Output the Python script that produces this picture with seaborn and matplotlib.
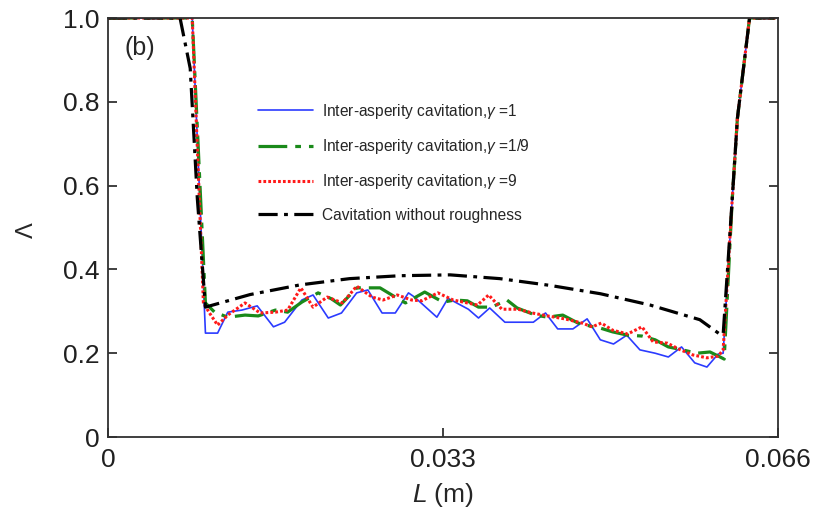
import pandas as pd
import seaborn as sns
import matplotlib.pyplot as plt

# valeurs (L en m, Lambda sans dimension)
L_g1 = [0, 0.0083, 0.0096, 0.0108, 0.0118, 0.0132, 0.0147, 0.0163, 0.0174, 0.0191,
        0.0202, 0.0217, 0.0230, 0.0245, 0.0256, 0.0270, 0.0283, 0.0296, 0.0302, 0.0324,
        0.0335, 0.0355, 0.0365, 0.0376, 0.0391, 0.0419, 0.0431, 0.0443, 0.0458, 0.0472,
        0.0485, 0.0498, 0.0511, 0.0524, 0.0539, 0.0552, 0.0565, 0.0578, 0.0590, 0.0601,
        0.0606, 0.0615, 0.0620, 0.0632, 0.066]
lam_g1 = [1.0, 1.0, 0.248, 0.248, 0.298, 0.303, 0.313, 0.263, 0.274, 0.327,
          0.339, 0.284, 0.296, 0.344, 0.351, 0.296, 0.296, 0.344, 0.334, 0.286,
          0.331, 0.305, 0.284, 0.308, 0.274, 0.274, 0.296, 0.258, 0.258, 0.282,
          0.232, 0.222, 0.243, 0.208, 0.200, 0.191, 0.215, 0.177, 0.167, 0.198,
          0.200, 0.57, 0.76, 1.0, 1.0]

L_g19 = [0, 0.0083, 0.0096, 0.0105, 0.0118, 0.0135, 0.0148, 0.0165, 0.0177, 0.0191,
         0.0207, 0.0220, 0.0229, 0.0245, 0.0268, 0.0283, 0.0293, 0.0312, 0.0330, 0.0342,
         0.0354, 0.0365, 0.0378, 0.0393, 0.0403, 0.0421, 0.0433, 0.0448, 0.0463, 0.0478,
         0.0485, 0.0497, 0.0512, 0.0526, 0.0539, 0.0552, 0.0566, 0.0580, 0.0593, 0.0603,
         0.0607, 0.0615, 0.0620, 0.0632, 0.066]
lam_g19 = [1.0, 1.0, 0.32, 0.298, 0.286, 0.291, 0.289, 0.303, 0.298, 0.322,
           0.344, 0.330, 0.315, 0.356, 0.356, 0.334, 0.320, 0.346, 0.322, 0.327,
           0.325, 0.310, 0.310, 0.327, 0.308, 0.291, 0.286, 0.291, 0.272, 0.263,
           0.260, 0.251, 0.243, 0.241, 0.232, 0.215, 0.208, 0.200, 0.203, 0.191,
           0.186, 0.57, 0.76, 1.0, 1.0]

L_g9 = [0, 0.0083, 0.0094, 0.0100, 0.0108, 0.0118, 0.0135, 0.0150, 0.0165, 0.0177,
        0.0190, 0.0202, 0.0216, 0.0231, 0.0245, 0.0260, 0.0271, 0.0285, 0.0299, 0.0309,
        0.0325, 0.0340, 0.0354, 0.0364, 0.0375, 0.0388, 0.0404, 0.0418, 0.0433, 0.0450,
        0.0467, 0.0477, 0.0486, 0.0497, 0.0512, 0.0526, 0.0537, 0.0551, 0.0564, 0.0576,
        0.0590, 0.0601, 0.0606, 0.0615, 0.0620, 0.0632, 0.066]
lam_g9 = [1.0, 1.0, 0.32, 0.296, 0.267, 0.291, 0.320, 0.296, 0.298, 0.303,
          0.356, 0.310, 0.334, 0.320, 0.360, 0.334, 0.327, 0.339, 0.327, 0.325,
          0.344, 0.327, 0.320, 0.315, 0.339, 0.305, 0.305, 0.296, 0.289, 0.282,
          0.272, 0.263, 0.272, 0.255, 0.246, 0.263, 0.227, 0.224, 0.208, 0.196,
          0.189, 0.193, 0.208, 0.57, 0.76, 1.0, 1.0]

L_smooth = [0, 0.0071, 0.0081, 0.0088, 0.0096, 0.0140, 0.0189, 0.0238, 0.0288, 0.0337,
            0.0386, 0.0435, 0.0485, 0.0534, 0.0583, 0.0603, 0.0606, 0.0615, 0.0620,
            0.0632, 0.066]
lam_smooth = [1.0, 1.0, 0.88, 0.57, 0.31, 0.34, 0.363, 0.378, 0.385, 0.387,
              0.378, 0.362, 0.342, 0.315, 0.28, 0.245, 0.245, 0.57, 0.76,
              1.0, 1.0]

labels = ["Inter-asperity cavitation,$\\gamma$ =1",
          "Inter-asperity cavitation,$\\gamma$ =1/9",
          "Inter-asperity cavitation,$\\gamma$ =9",
          "Cavitation without roughness"]

x_ticks = [0, 0.033, 0.066]
x_ticklabels = ["0", "0.033", "0.066"]
y_ticks = [0, 0.2, 0.4, 0.6, 0.8, 1.0]
y_ticklabels = ["0", "0.2", "0.4", "0.6", "0.8", "1.0"]

sns.set_theme(style="ticks")
plt.rcParams['font.family'] = ['Liberation Sans', 'DejaVu Sans']
plt.rcParams['mathtext.fontset'] = 'custom'
plt.rcParams['mathtext.it'] = 'Liberation Sans:italic'
plt.rcParams['mathtext.rm'] = 'Liberation Sans'

fig = plt.figure(figsize=(8.23, 5.13), dpi=100)
ax = fig.add_axes([0.1312, 0.1481, 0.8141, 0.8168])

# (x, y, couleur, epaisseur, motif)
courbes = [
    (L_g1, lam_g1, "#2b3bff", 1.2, "-"),
    (L_g19, lam_g19, "#1a8a1a", 2.3, (0, (9, 2.5, 1.8, 2.5))),
    (L_g9, lam_g9, "#ff1a1a", 2.2, (0, (0.9, 0.7))),
    (L_smooth, lam_smooth, "black", 2.3, (0, (6, 2, 1.2, 2))),
]

for (xs, ys, cor, lw, ls), lab in zip(courbes, labels):
    df = pd.DataFrame({"L": xs, "Lambda": ys})
    sns.lineplot(data=df, x="L", y="Lambda", sort=False, estimator=None,
                 color=cor, lw=lw, label=lab, ax=ax)
    ax.lines[-1].set_linestyle(ls)

ax.set_xlim(0, 0.066)
ax.set_ylim(0, 1.0)
ax.set_xticks(x_ticks)
ax.set_xticklabels(x_ticklabels)
ax.set_yticks(y_ticks)
ax.set_yticklabels(y_ticklabels)
ax.tick_params(direction='in', length=6.5, width=1.2, right=True, top=False,
               labelsize=19, colors='#202020', pad=6)
ax.tick_params(axis='x', pad=8)
for sp in ax.spines.values():
    sp.set_color('#303030')
    sp.set_linewidth(1.3)

ax.set_xlabel("$\\it{L}$ (m)", fontsize=19)
ax.xaxis.set_label_coords(0.5, -0.105)
ax.set_ylabel("Λ", fontsize=17, rotation=90)
ax.yaxis.set_label_coords(-0.104, 0.494)
ax.text(0.025, 0.928, "(b)", transform=ax.transAxes, fontsize=18,
        va='center', ha='left')

ax.legend(loc='upper left', bbox_to_anchor=(0.224, 0.80), frameon=False,
          fontsize=11.2, handlelength=3.5, handletextpad=0.6, labelspacing=1.05,
          borderpad=0, borderaxespad=0)

fig.savefig("out.png", dpi=100)
